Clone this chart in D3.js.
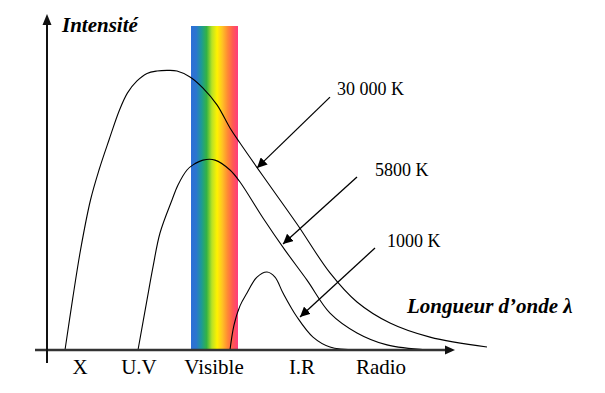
<!DOCTYPE html>
<html>
<head>
<meta charset="utf-8">
<script src="https://cdn.jsdelivr.net/npm/d3@7"></script>
<style>
  body { margin: 0; background: #fff; }
  text { font-family: "Liberation Serif", "Times New Roman", serif; fill: #000; }
</style>
</head>
<body>
<div id="root"></div>
<script>
// wavelength (arbitrary units) / intensity (arbitrary units)
const curve30000 = [
  [4.5, 0], [6.375, 16.7], [8.375, 33.3], [10.875, 50], [13, 60], [15.5, 70],
  [18.125, 80], [20.125, 85.7], [22.5, 89.7], [25, 92.2], [27.5, 93],
  [30, 93.2], [32.5, 93], [35.75, 91], [39, 87.3], [42.5, 81.7], [45.75, 74],
  [48.25, 69], [54, 58], [62.5, 42], [70.75, 25.7], [77.5, 16], [85.75, 9],
  [95.75, 4.3], [110, 1]
];
const curve5800 = [
  [22.75, 0], [25, 16.7], [26.5, 27.7], [28.25, 39], [31.25, 50], [32.75, 55], [35, 60],
  [36.5, 61.7], [39, 63.3], [42, 63.3], [45.75, 60], [48.25, 56], [54, 44], [59.5, 33.3],
  [65, 23.3], [70.75, 12.3], [77.5, 5.7], [85, 1.7], [95, 0]
];
const curve1000 = [
  [45.75, 0], [46.75, 8.3], [48.25, 14.7], [50, 19], [52.5, 24.3], [55, 26], [57, 24.3],
  [59, 19], [62.5, 11], [66.5, 4.3], [70.75, 1], [77.5, 0]
];

// temperature labels and the arrows pointing at each curve
const tempLabels = ["30 000 K", "5800 K", "1000 K"];
const labelPos = [[72.5, 85], [82, 58], [85, 34.3]];
const arrowFrom = [[70.75, 84.3], [77.5, 57.7], [82, 34]];
const arrowTo = [[52.5, 60.7], [59, 35.3], [63.25, 11]];

// domains on the wavelength axis
const domainNames = ["X", "U.V", "Visible", "I.R", "Radio"];
const domainPos = [8.25, 23, 41.75, 63.75, 83.5];

// visible band
const visibleBand = [36, 47.75];
const spectrumColors = ["#2d6fd6", "#2b76cf", "#1d9a96", "#34b344", "#b8e226", "#fff200",
  "#ffc224", "#ff8a34", "#ff5a52", "#ff3c7e"];

const w = 605, h = 393;

const x = d3.scaleLinear().domain([0, 110]).range([47, 487]);
const y = d3.scaleLinear().domain([0, 108]).range([350, 26]);

const svg = d3.select("#root").append("svg")
  .attr("width", w)
  .attr("height", h);

const defs = svg.append("defs");
const grad = defs.append("linearGradient")
  .attr("id", "spectrum")
  .attr("x1", "0%").attr("x2", "100%").attr("y1", "0%").attr("y2", "0%");
grad.selectAll("stop")
  .data(spectrumColors)
  .enter().append("stop")
  .attr("offset", (d, i) => i / (spectrumColors.length - 1))
  .attr("stop-color", d => d);

defs.append("marker")
  .attr("id", "head")
  .attr("viewBox", "0 0 10 10")
  .attr("refX", 10).attr("refY", 5)
  .attr("markerWidth", 10).attr("markerHeight", 10)
  .attr("markerUnits", "userSpaceOnUse")
  .attr("orient", "auto")
  .append("path")
  .attr("d", "M0,0L10,5L0,10z")
  .attr("fill", "#000");

// visible spectrum
svg.append("rect")
  .attr("x", x(visibleBand[0]))
  .attr("y", y(108))
  .attr("width", x(visibleBand[1]) - x(visibleBand[0]))
  .attr("height", y(0) - y(108))
  .attr("fill", "url(#spectrum)");

// curves
const line = d3.line()
  .x(d => x(d[0]))
  .y(d => y(d[1]))
  .curve(d3.curveCatmullRom.alpha(0.5));

svg.selectAll("path.curve")
  .data([curve30000, curve5800, curve1000])
  .enter().append("path")
  .attr("class", "curve")
  .attr("d", line)
  .attr("fill", "none")
  .attr("stroke", "#000")
  .attr("stroke-width", 1.1);

// axes
svg.append("line")
  .attr("x1", 35).attr("x2", 447)
  .attr("y1", y(0)).attr("y2", y(0))
  .attr("stroke", "#333").attr("stroke-width", 2.5);
svg.append("path")
  .attr("d", `M${455},${y(0)}L${445},${y(0) - 4.5}L${445},${y(0) + 4.5}z`)
  .attr("fill", "#111");

svg.append("line")
  .attr("x1", x(0)).attr("x2", x(0))
  .attr("y1", 363).attr("y2", 22)
  .attr("stroke", "#111").attr("stroke-width", 2);
svg.append("path")
  .attr("d", `M${x(0)},14L${x(0) - 4.5},25L${x(0) + 4.5},25z`)
  .attr("fill", "#111");

// arrows to the curves
svg.selectAll("line.pointer")
  .data(arrowFrom)
  .enter().append("line")
  .attr("class", "pointer")
  .attr("x1", d => x(d[0])).attr("y1", d => y(d[1]))
  .attr("x2", (d, i) => x(arrowTo[i][0])).attr("y2", (d, i) => y(arrowTo[i][1]))
  .attr("stroke", "#000").attr("stroke-width", 1.3)
  .attr("marker-end", "url(#head)");

svg.selectAll("text.temp")
  .data(tempLabels)
  .enter().append("text")
  .attr("class", "temp")
  .attr("x", (d, i) => x(labelPos[i][0]))
  .attr("y", (d, i) => y(labelPos[i][1]))
  .style("font-size", "18px")
  .text(d => d);

svg.selectAll("text.domain")
  .data(domainNames)
  .enter().append("text")
  .attr("class", "domain")
  .attr("x", (d, i) => x(domainPos[i]))
  .attr("y", 374)
  .attr("text-anchor", "middle")
  .style("font-size", "21px")
  .text(d => d);

// axis titles
svg.append("text")
  .attr("x", 62).attr("y", 32)
  .style("font-size", "21px")
  .style("font-weight", "bold")
  .style("font-style", "italic")
  .text("Intensité");

svg.append("text")
  .attr("x", 407).attr("y", 313)
  .style("font-size", "21px")
  .style("font-weight", "bold")
  .style("font-style", "italic")
  .text("Longueur d’onde λ");
</script>
</body>
</html>
